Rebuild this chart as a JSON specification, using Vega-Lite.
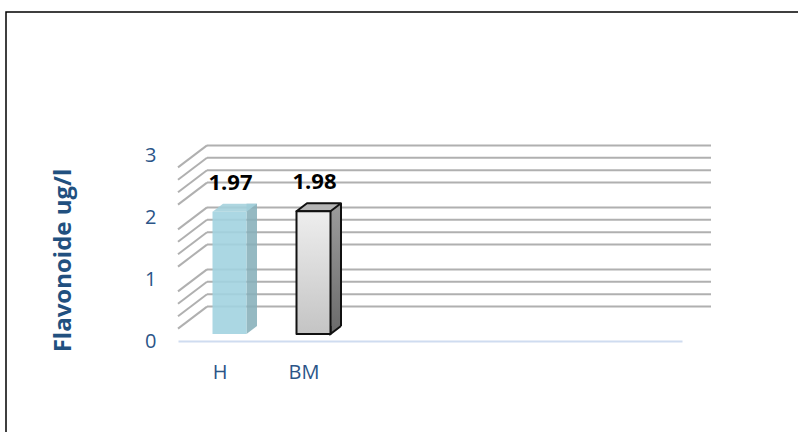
{
  "$schema": "https://vega.github.io/schema/vega-lite/v6.json",
  "autosize": "none",
  "width": 800,
  "height": 430,
  "padding": {"left": 6, "top": 12, "right": 0, "bottom": 0},
  "background": "white",
  "config": {
    "view": {"stroke": "#000000", "strokeWidth": 1.5},
    "font": "Open Sans"
  },
  "datasets": {
    "bars": [
      {"sample": "H", "value": 1.97},
      {"sample": "BM", "value": 1.98}
    ],
    "minor": [
      {"v": 0.2}, {"v": 0.4}, {"v": 0.6}, {"v": 0.8},
      {"v": 1.2}, {"v": 1.4}, {"v": 1.6}, {"v": 1.8},
      {"v": 2.2}, {"v": 2.4}, {"v": 2.6}, {"v": 2.8}
    ]
  },
  "encoding": {
    "x": {
      "field": "sample",
      "type": "nominal",
      "sort": null,
      "scale": {
        "type": "band",
        "domain": ["H", "BM", "c3", "c4", "c5", "c6"],
        "range": [172, 676],
        "paddingInner": 0,
        "paddingOuter": 0
      },
      "axis": {
        "title": null,
        "orient": "bottom",
        "offset": -101,
        "ticks": false,
        "labelAngle": 0,
        "labelFontSize": 20,
        "labelColor": "#2B5588",
        "labelPadding": 21,
        "labelExpr": "indexof(['H','BM'], datum.value) >= 0 ? datum.value : ''",
        "domainColor": "#CFDCF0",
        "domainWidth": 2
      }
    },
    "y": {
      "field": "value",
      "type": "quantitative",
      "scale": {"domain": [0, 3], "range": [329, 143], "nice": false, "zero": true},
      "axis": {
        "title": "Flavonoide ug/l",
        "orient": "left",
        "offset": -172,
        "values": [0, 1, 2, 3],
        "format": "d",
        "grid": false,
        "ticks": false,
        "domain": false,
        "labelFontSize": 20,
        "labelColor": "#2B5588",
        "labelPadding": 22,
        "titleFontSize": 24,
        "titleFontWeight": "bold",
        "titleColor": "#21507F",
        "titleX": -115,
        "titleY": 248,
        "titleAlign": "center",
        "titleBaseline": "middle",
        "titleAngle": -90
      }
    }
  },
  "layer": [
    {
      "data": {"name": "minor"},
      "mark": {"type": "rule", "xOffset": 29, "x2Offset": 29, "yOffset": -22, "stroke": "#B0B0B0", "strokeWidth": 2},
      "encoding": {
        "x": {"datum": "H", "bandPosition": 0},
        "x2": {"datum": "c6", "bandPosition": 1},
        "y": {"field": "v", "type": "quantitative"}
      }
    },
    {
      "data": {"name": "minor"},
      "mark": {"type": "point", "shape": "M0 0 L29 -22", "size": 4, "filled": false, "opacity": 1, "stroke": "#B0B0B0", "strokeWidth": 2},
      "encoding": {
        "x": {"datum": "H", "bandPosition": 0},
        "y": {"field": "v", "type": "quantitative"}
      }
    },
    {
      "data": {"name": "bars"},
      "mark": {"type": "bar", "width": 10.5, "xOffset": 31.75, "yOffset": -15, "y2Offset": -15},
      "encoding": {
        "y2": {"datum": 0},
        "fill": {
          "condition": {"test": "datum.sample === 'BM'", "value": {"gradient": "linear", "x1": 0, "y1": 0, "x2": 0, "y2": 1, "stops": [{"offset": 0, "color": "#9C9C9C"}, {"offset": 1, "color": "#6E6E6E"}]}},
          "value": "#86AFBA"
        },
        "fillOpacity": {"condition": {"test": "datum.sample === 'BM'", "value": 1}, "value": 0.88}
      }
    },
    {
      "data": {"name": "bars"},
      "mark": {"type": "point", "shape": "M37 -15 L26.5 -7 L26.5 -15", "size": 4, "filled": true, "opacity": 1, "strokeWidth": 2},
      "encoding": {
        "y": {"datum": 0},
        "fill": {"condition": {"test": "datum.sample === 'BM'", "value": "#6E6E6E"}, "value": "#86AFBA"},
        "fillOpacity": {"condition": {"test": "datum.sample === 'BM'", "value": 1}, "value": 0.88},
        "stroke": {"condition": {"test": "datum.sample === 'BM'", "value": "#111111"}, "value": null}
      }
    },
    {
      "data": {"name": "bars"},
      "transform": [{"filter": "datum.sample === 'BM'"}],
      "mark": {"type": "rule", "xOffset": 37, "yOffset": -15, "y2Offset": -15, "stroke": "#111111", "strokeWidth": 2},
      "encoding": {
        "y2": {"datum": 0}
      }
    },
    {
      "data": {"name": "bars"},
      "mark": {"type": "point", "shape": "M-7.5 -7 L26.5 -7 L37 -15 L3 -15 Z", "size": 4, "filled": true, "opacity": 1, "strokeWidth": 2, "strokeJoin": "round"},
      "encoding": {
        "fill": {"condition": {"test": "datum.sample === 'BM'", "value": "#B5B5B5"}, "value": "#A3D0DC"},
        "fillOpacity": {"condition": {"test": "datum.sample === 'BM'", "value": 1}, "value": 0.88},
        "stroke": {"condition": {"test": "datum.sample === 'BM'", "value": "#111111"}, "value": null}
      }
    },
    {
      "data": {"name": "bars"},
      "mark": {"type": "bar", "width": 34, "xOffset": 9.5, "yOffset": -7, "y2Offset": -7, "strokeJoin": "round"},
      "encoding": {
        "y2": {"datum": 0},
        "fill": {
          "condition": {"test": "datum.sample === 'BM'", "value": {"gradient": "linear", "x1": 0, "y1": 0, "x2": 0, "y2": 1, "stops": [{"offset": 0, "color": "#EEEEEE"}, {"offset": 1, "color": "#C4C4C4"}]}},
          "value": "#A2D3E0"
        },
        "fillOpacity": {"condition": {"test": "datum.sample === 'BM'", "value": 1}, "value": 0.9},
        "stroke": {"condition": {"test": "datum.sample === 'BM'", "value": "#111111"}, "value": null},
        "strokeWidth": {"value": 2}
      }
    },
    {
      "data": {"name": "bars"},
      "mark": {"type": "text", "xOffset": 10.5, "yOffset": -36, "baseline": "middle", "align": "center", "fontSize": 22, "fontWeight": "bold", "color": "#000000"},
      "encoding": {
        "text": {"field": "value", "type": "quantitative", "format": ".2f"}
      }
    }
  ]
}
